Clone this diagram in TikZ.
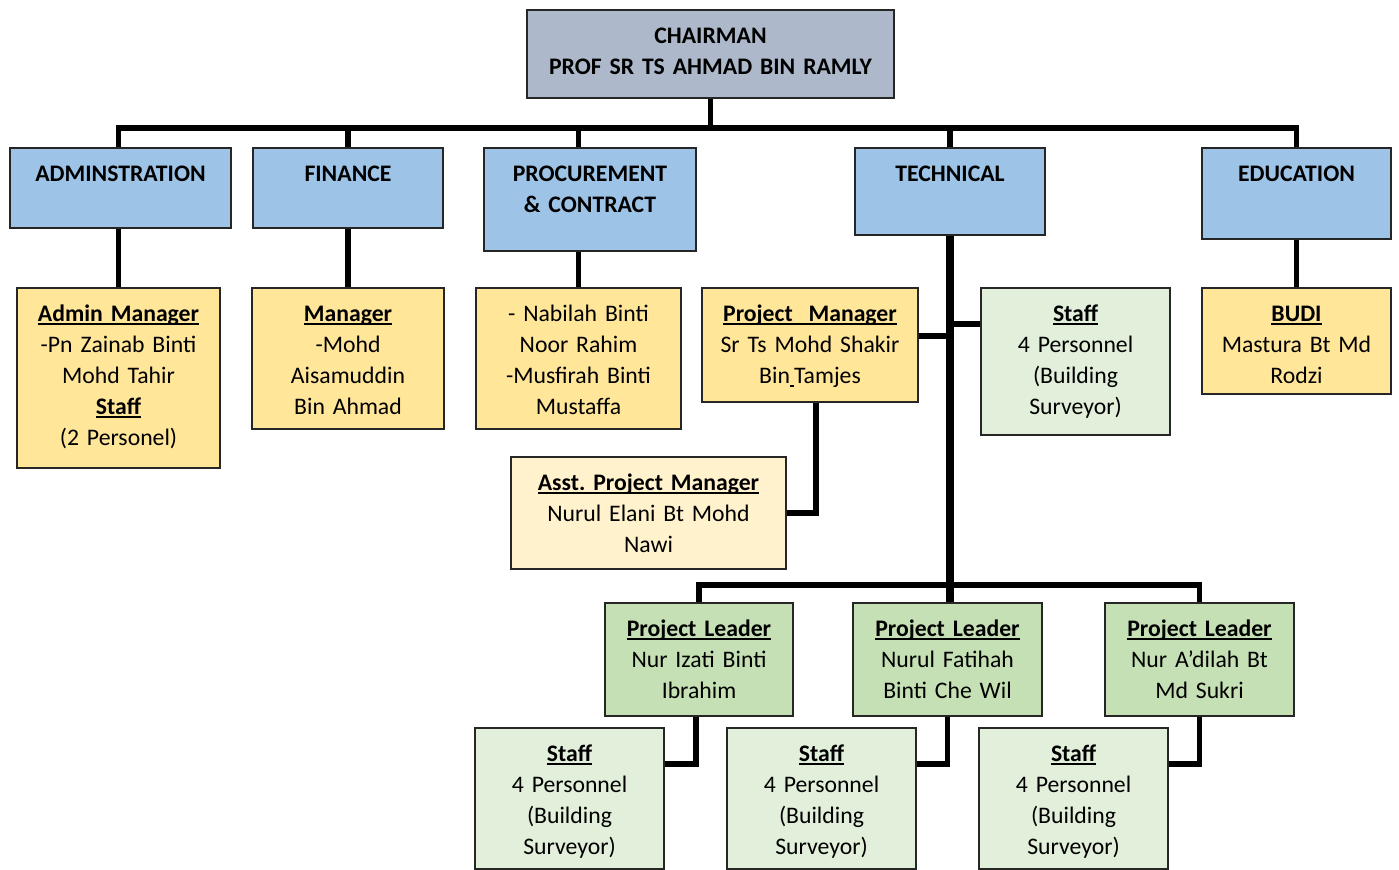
\documentclass[tikz,border=0pt]{standalone}
\usepackage{fontspec}
\setmainfont{Carlito}
\usetikzlibrary{backgrounds}
\frenchspacing

\definecolor{chairgray}{HTML}{ADB9CA}
\definecolor{deptblue}{HTML}{9DC3E6}
\definecolor{mgryellow}{HTML}{FFE699}
\definecolor{asstyellow}{HTML}{FFF2CC}
\definecolor{leadgreen}{HTML}{C5E0B4}
\definecolor{staffgreen}{HTML}{E2EFDA}

\newcommand{\orgfont}{\fontsize{13.5pt}{17.6pt}\selectfont}
\newcommand{\orgul}[1]{\leavevmode\setbox0=\hbox{\bfseries #1}\rlap{\rule[-1.7pt]{\wd0}{0.9pt}}\box0}

\tikzset{
	orgbox/.style={draw=black!85, line width=1.1pt, anchor=north, align=center, inner xsep=0pt, inner ysep=0pt, font=\orgfont, text height=0.68cm},
	deptbox/.style={orgbox, font=\orgfont\bfseries},
	wire/.style={line width=3.2pt},
	trunk/.style={line width=4.7pt}
}

\begin{document}
\begin{tikzpicture}[x=0.02cm, y=-0.02cm]
	\useasboundingbox (0,0) rectangle (1399,869);

	% top and departments
	\node[deptbox, fill=chairgray, text width=7.34cm, text depth=1.08cm] (chair) at (710.5,9) {CHAIRMAN\\PROF SR TS AHMAD BIN RAMLY};
	\node[deptbox, fill=deptblue, text width=4.42cm, text depth=0.92cm] (admin) at (120.5,147) {ADMINSTRATION};
	\node[deptbox, fill=deptblue, text width=3.8cm, text depth=0.92cm] (fin) at (348,147) {FINANCE};
	\node[deptbox, fill=deptblue, text width=4.24cm, text depth=1.38cm] (proc) at (590,147) {PROCUREMENT\\\& CONTRACT};
	\node[deptbox, fill=deptblue, text width=3.8cm, text depth=1.06cm] (tech) at (950,147) {TECHNICAL};
	\node[deptbox, fill=deptblue, text width=3.78cm, text depth=1.14cm] (edu) at (1296.5,147) {EDUCATION};

	% second row
	\node[orgbox, fill=mgryellow, text width=4.06cm, text depth=2.92cm] (adminmgr) at (118.5,287) {\orgul{Admin Manager}\\-Pn Zainab Binti\\Mohd Tahir\\\orgul{Staff}\\(2 Personel)};
	\node[orgbox, fill=mgryellow, text width=3.84cm, text depth=2.14cm] (finmgr) at (348,287) {\orgul{Manager}\\-Mohd\\Aisamuddin\\Bin Ahmad};
	\node[orgbox, fill=mgryellow, text width=4.1cm, text depth=2.14cm] (procstaff) at (578.5,287) {- Nabilah Binti\\Noor Rahim\\-Musfirah Binti\\Mustaffa};
	\node[orgbox, fill=mgryellow, text width=4.32cm, text depth=1.6cm] (pm) at (810,287) {\orgul{Project\ \ Manager}\\Sr Ts Mohd Shakir\\Bin\orgul{\mdseries\,}Tamjes};
	\node[orgbox, fill=staffgreen, text width=3.78cm, text depth=2.26cm] (techstaff) at (1075.5,287) {\orgul{Staff}\\4 Personnel\\(Building\\Surveyor)};
	\node[orgbox, fill=mgryellow, text width=3.78cm, text depth=1.44cm] (budi) at (1296.5,287) {\orgul{BUDI}\\Mastura Bt Md\\Rodzi};
	\node[orgbox, fill=asstyellow, text width=5.5cm, text depth=1.56cm] (asst) at (648.5,456) {\orgul{Asst. Project Manager}\\Nurul Elani Bt Mohd\\Nawi};

	% project leaders
	\node[orgbox, fill=leadgreen, text width=3.76cm, text depth=1.58cm] (lead1) at (699,602) {\orgul{Project Leader}\\Nur Izati Binti\\Ibrahim};
	\node[orgbox, fill=leadgreen, text width=3.78cm, text depth=1.58cm] (lead2) at (947.5,602) {\orgul{Project Leader}\\Nurul Fatihah\\Binti Che Wil};
	\node[orgbox, fill=leadgreen, text width=3.78cm, text depth=1.58cm] (lead3) at (1199.5,602) {\orgul{Project Leader}\\Nur A’dilah Bt\\Md Sukri};

	% staff under leaders
	\node[orgbox, fill=staffgreen, text width=3.78cm, text depth=2.14cm] (staff1) at (569.5,727) {\orgul{Staff}\\4 Personnel\\(Building\\Surveyor)};
	\node[orgbox, fill=staffgreen, text width=3.78cm, text depth=2.14cm] (staff2) at (821.5,727) {\orgul{Staff}\\4 Personnel\\(Building\\Surveyor)};
	\node[orgbox, fill=staffgreen, text width=3.78cm, text depth=2.14cm] (staff3) at (1073.5,727) {\orgul{Staff}\\4 Personnel\\(Building\\Surveyor)};

	\coordinate (bus) at (0,128);
	\coordinate (lowbus) at (0,585);

	\begin{scope}[on background layer]
		\draw[wire] (chair.south) -- (chair.south |- bus);
		\draw[wire] (adminmgr.north) |- (budi.north |- bus) -- (budi.north);
		\draw[wire] (finmgr.north) -- (finmgr.north |- bus);
		\draw[wire] (procstaff.north) -- (procstaff.north |- bus);
		\draw[wire] (tech.north) -- (tech.north |- bus);
		\draw[trunk] (tech.south) -- (tech.south |- lead2.north);
		\draw[wire] ([yshift=0.18cm]pm.east) -- ([yshift=0.18cm]pm.east -| tech.south);
		\draw[wire] ([yshift=0.75cm]techstaff.west) -- ([yshift=0.75cm]techstaff.west -| tech.south);
		\draw[wire] ([xshift=0.12cm]pm.south) |- (asst.east);
		\draw[wire] (lead1.north) |- (lead3.north |- lowbus) -- (lead3.north);
		\draw[wire] ([xshift=-0.06cm]lead1.south) |- ([yshift=0.69cm]staff1.east);
		\draw[wire] (lead2.south) |- ([yshift=0.69cm]staff2.east);
		\draw[wire] (lead3.south) |- ([yshift=0.69cm]staff3.east);
	\end{scope}
\end{tikzpicture}
\end{document}
